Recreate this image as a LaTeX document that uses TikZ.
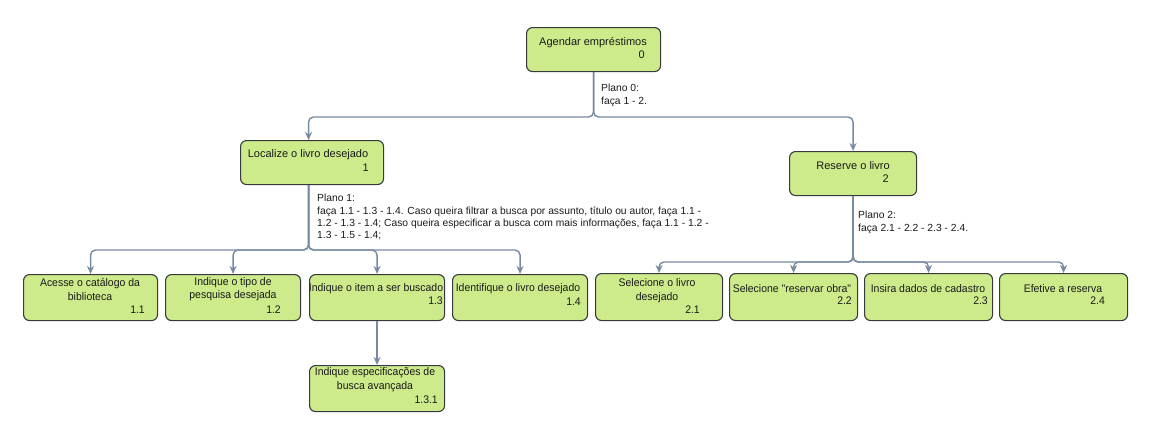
\documentclass[tikz,border=0pt]{standalone}
\usepackage{fontspec}
\setmainfont{Liberation Sans}
\newfontfamily\condfont[FakeStretch=0.95]{Liberation Sans}
\usetikzlibrary{arrows.meta}
\definecolor{boxfill}{HTML}{CDEB8B}
\definecolor{boxline}{HTML}{36393D}
\definecolor{conncol}{HTML}{788AA3}
\definecolor{txtcol}{HTML}{1A1A1A}
\begin{document}
\begin{tikzpicture}[x=1pt,y=-1pt,
  box/.style={draw=boxline, fill=boxfill, rounded corners=6pt, line width=1.1pt, inner sep=0, anchor=north west},
  txt/.style={font=\fontsize{11}{13.5}\selectfont, text=txtcol, inner sep=0, align=center},
  ctxt/.style={font=\condfont\fontsize{11}{13.5}\selectfont, text=txtcol, inner sep=0, align=center},
  num/.style={font=\fontsize{11}{13}\selectfont, text=txtcol, inner sep=0, anchor=mid east},
  cnum/.style={font=\condfont\fontsize{11}{13}\selectfont, text=txtcol, inner sep=0, anchor=mid east},
  plan/.style={font=\fontsize{10.3}{12.4}\selectfont, text=txtcol, inner sep=0, align=left, anchor=north west},
  conn/.style={draw=conncol, line width=1.4pt, rounded corners=5pt, -{Stealth[length=8pt,width=7pt,inset=2.5pt]}}
]
\useasboundingbox (0,0) rectangle (1149,423);

% boxes
\node[box, minimum width=134pt, minimum height=44pt] (n0) at (526,27) {};
\node[box, minimum width=143pt, minimum height=44pt] (n1) at (240,140) {};
\node[box, minimum width=127pt, minimum height=44pt] (n2) at (789,151) {};
\node[box, minimum width=134pt, minimum height=46pt] (n11) at (23,274) {};
\node[box, minimum width=135pt, minimum height=46pt] (n12) at (165,274) {};
\node[box, minimum width=135pt, minimum height=46pt] (n13) at (309,274) {};
\node[box, minimum width=135pt, minimum height=46pt] (n14) at (452,274) {};
\node[box, minimum width=135pt, minimum height=46pt] (n131) at (309,365) {};
\node[box, minimum width=127pt, minimum height=47pt] (n21) at (595,273) {};
\node[box, minimum width=128pt, minimum height=47pt] (n22) at (729,273) {};
\node[box, minimum width=128pt, minimum height=47pt] (n23) at (864,273) {};
\node[box, minimum width=128pt, minimum height=47pt] (n24) at (999,273) {};

% texts
\node[txt] (t0) at (593,43) {Agendar empréstimos};
\node[num] (k0) at (645,56) {0};
\node[txt] (t1) at (308,155) {Localize o livro desejado};
\node[num] (k1) at (369,169) {1};
\node[txt] (t2) at (853,166) {Reserve o livro};
\node[num] (k2) at (889,180) {2};

\node[ctxt] (t11) at (90,289.5) {Acesse o catálogo da\\biblioteca};
\node[cnum] (k11) at (145,311) {1.1};
\node[ctxt] (t12) at (233,289) {Indique o tipo de\\pesquisa desejada};
\node[cnum] (k12) at (281,311) {1.2};
\node[ctxt] (t13) at (376,289) {Indique o item a ser buscado};
\node[cnum] (k13) at (443,302) {1.3};
\node[ctxt] (t14) at (518,289) {Identifique o livro desejado};
\node[cnum] (k14) at (581,303) {1.4};
\node[ctxt] (t131) at (375,379.5) {Indique especificações de\\busca avançada};
\node[cnum] (k131) at (438,401) {1.3.1};

\node[ctxt] (t21) at (657,290.5) {Selecione o livro\\desejado};
\node[cnum] (k21) at (700,311) {2.1};
\node[ctxt] (t22) at (792,289) {Selecione "reservar obra"};
\node[cnum] (k22) at (852,302) {2.2};
\node[ctxt] (t23) at (928,289) {Insira dados de cadastro};
\node[cnum] (k23) at (988,302) {2.3};
\node[ctxt] (t24) at (1063,289) {Efetive a reserva};
\node[cnum] (k24) at (1105,302) {2.4};

% plans
\node[plan] (p0) at (601,84) {Plano 0:\\faça 1 - 2.};
\node[plan] (p1) at (317,194) {Plano 1:\\faça 1.1 - 1.3 - 1.4. Caso queira filtrar a busca por assunto, título ou autor, faça 1.1 -\\1.2 - 1.3 - 1.4; Caso queira especificar a busca com mais informações, faça 1.1 - 1.2 -\\1.3 - 1.5 - 1.4;};
\node[plan] (p2) at (858,211) {Plano 2:\\faça 2.1 - 2.2 - 2.3 - 2.4.};

% buses
\coordinate (b0) at (0,117);
\coordinate (b1) at (0,250);
\coordinate (b2) at (0,262);

% connectors
\coordinate (e1) at ([xshift=-3.5pt]n1.north);
\coordinate (s1) at ([xshift=-3.5pt]n1.south);
\draw[conn] (n0.south) -- (n0.south |- b0) -| (e1);
\draw[conn] (n0.south) -- (n0.south |- b0) -| (n2.north);
\foreach \c in {n11,n12,n13,n14}
  \draw[conn] (s1) -- (s1 |- b1) -| (\c.north);
\draw[conn] (n13.south) -- (n131.north);
\foreach \c in {n21,n22,n23,n24}
  \draw[conn] (n2.south) -- (n2.south |- b2) -| (\c.north);
\end{tikzpicture}
\end{document}
